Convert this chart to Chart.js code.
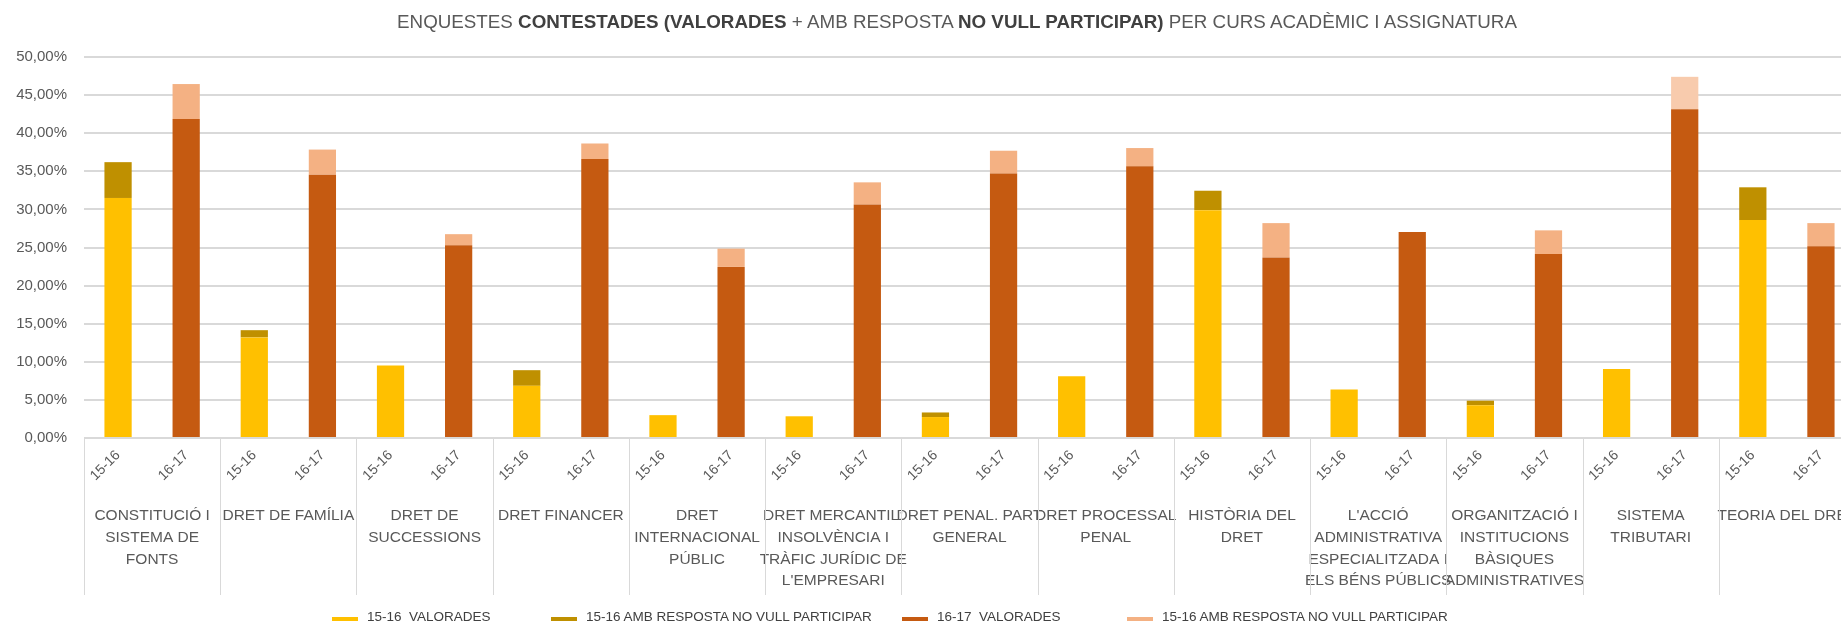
<!DOCTYPE html>
<html>
<head>
<meta charset="utf-8">
<script src="https://cdn.jsdelivr.net/npm/chart.js@4.4.1/dist/chart.umd.min.js"></script>
<style>
  html, body { margin: 0; padding: 0; background: #fff; overflow: hidden; }
  #wrap { position: relative; width: 1860px; height: 628px; }
  #title {
    position: absolute; top: 11px; left: 957px; transform: translateX(-50%);
    white-space: nowrap; font: 18.8px 'Liberation Sans', sans-serif; color: #595959;
  }
  #title b { color: #404040; }
  #legend {
    position: absolute; top: 609px; left: 0; width: 1841px; height: 20px;
    font: 13.5px 'Liberation Sans', sans-serif; color: #404040; white-space: pre;
  }
  #legend .item { position: absolute; top: 0; display: flex; align-items: center; }
  #legend .mark { width: 26px; height: 4px; margin: 5px 9px 0 0; }
</style>
</head>
<body>
<div id="wrap">
  <div id="title">ENQUESTES <b>CONTESTADES (VALORADES</b> + AMB RESPOSTA <b>NO VULL PARTICIPAR)</b> PER CURS ACADÈMIC I ASSIGNATURA</div>
  <canvas id="chart"></canvas>
  <div id="legend"></div>
</div>
<script>
// subjects (groups) and the two academic years inside each group
const subjects = [
  ['CONSTITUCIÓ I', 'SISTEMA DE', 'FONTS'],
  ['DRET DE FAMÍLIA'],
  ['DRET DE', 'SUCCESSIONS'],
  ['DRET FINANCER'],
  ['DRET', 'INTERNACIONAL', 'PÚBLIC'],
  ['DRET MERCANTIL:', 'INSOLVÈNCIA I', 'TRÀFIC JURÍDIC DE', "L'EMPRESARI"],
  ['DRET PENAL. PART', 'GENERAL'],
  ['DRET PROCESSAL', 'PENAL'],
  ['HISTÒRIA DEL', 'DRET'],
  ["L'ACCIÓ", 'ADMINISTRATIVA', 'ESPECIALITZADA I', 'ELS BÉNS PÚBLICS'],
  ['ORGANITZACIÓ I', 'INSTITUCIONS', 'BÀSIQUES', 'ADMINISTRATIVES'],
  ['SISTEMA', 'TRIBUTARI'],
  ['TEORIA DEL DRET']
];
const years = ['15-16', '16-17'];

// % of surveys, one value per subject
const val1516 = [31.5, 13.2, 9.5, 6.85, 3.0, 2.85, 2.75, 8.1, 29.9, 6.35, 4.3, 9.05, 28.6];
const nvp1516 = [4.7, 0.95, 0, 2.05, 0, 0, 0.6, 0, 2.55, 0, 0.6, 0, 4.3];
const val1617 = [41.85, 34.55, 25.3, 36.6, 22.45, 30.65, 34.7, 35.65, 23.7, 27.05, 24.15, 43.15, 25.15];
const nvp1617 = [4.6, 3.3, 1.45, 2.05, 2.4, 2.9, 3.0, 2.4, 4.5, 0, 3.1, 4.25, 3.05];

const yTicks = { min: 0, max: 50, step: 5 };

// one bar slot per (subject, year)
const xLabels = [];
subjects.forEach(() => years.forEach(y => xLabels.push(y)));

function spread(values, yearIdx) {
  const out = [];
  values.forEach(v => years.forEach((y, i) => out.push(i === yearIdx ? v : null)));
  return out;
}

const grey = '#595959';
Chart.defaults.font.family = "'Liberation Sans', sans-serif";
Chart.defaults.color = grey;

// vertical lines between subject groups, from the axis line down through the labels
const groupLines = {
  id: 'groupLines',
  afterDraw(chart) {
    const x2 = chart.scales.x2;
    const ctx = chart.ctx;
    ctx.save();
    ctx.strokeStyle = '#d9d9d9';
    ctx.lineWidth = 1;
    for (let i = 0; i <= subjects.length; i++) {
      const px = Math.round(x2.getPixelForValue(i - 0.5)) + 0.5;
      ctx.beginPath();
      ctx.moveTo(px, chart.chartArea.bottom);
      ctx.lineTo(px, x2.bottom);
      ctx.stroke();
    }
    ctx.restore();
  }
};

const chart = new Chart(document.getElementById('chart'), {
  type: 'bar',
  data: {
    labels: xLabels,
    datasets: [
      { label: '15-16  VALORADES', data: spread(val1516, 0), backgroundColor: '#FFC000' },
      { label: '15-16 AMB RESPOSTA NO VULL PARTICIPAR', data: spread(nvp1516, 0), backgroundColor: '#BF9000' },
      { label: '16-17  VALORADES', data: spread(val1617, 1), backgroundColor: '#C55A11' },
      { label: '15-16 AMB RESPOSTA NO VULL PARTICIPAR', data: spread(nvp1617, 1),
        backgroundColor: ctx => ctx.dataIndex === 23 ? '#F8CBAD' : '#F4B183' }
    ]
  },
  plugins: [groupLines],
  options: {
    responsive: true,
    maintainAspectRatio: false,
    animation: false,
    barPercentage: 0.4,
    categoryPercentage: 1,
    layout: { padding: { top: 57, left: 16, right: 5, bottom: 33 } },
    plugins: {
      legend: { display: false },
      tooltip: { enabled: false }
    },
    scales: {
      x: {
        stacked: true,
        border: { display: false },
        grid: { display: false, drawTicks: false },
        ticks: {
          autoSkip: false, minRotation: 45, maxRotation: 45,
          padding: 9, font: { size: 14 }, color: grey
        },
        afterFit(s) { s.height = 56; s.paddingLeft = 0; s.paddingRight = 0; }
      },
      x2: {
        type: 'category',
        labels: subjects,
        position: 'bottom',
        offset: true,
        border: { display: false },
        grid: { display: false, drawTicks: false },
        ticks: {
          autoSkip: false, minRotation: 0, maxRotation: 0,
          padding: 11, font: { size: 15.5, lineHeight: 1.4 }, color: grey
        },
        afterFit(s) { s.height = 101; s.paddingLeft = 0; s.paddingRight = 0; }
      },
      y: {
        stacked: true,
        min: yTicks.min,
        max: yTicks.max,
        border: { display: false },
        grid: { color: '#d9d9d9', lineWidth: 2, drawTicks: false },
        ticks: {
          stepSize: yTicks.step, padding: 17, font: { size: 15 }, color: grey,
          callback: v => v.toFixed(2).replace('.', ',') + '%'
        },
        afterFit(s) { s.width = 68; }
      }
    }
  }
});

// legend drawn as html from the chart's own legend items
const legendLeft = [332, 551, 902, 1127];
const legendEl = document.getElementById('legend');
chart.options.plugins.legend.labels.generateLabels(chart).forEach((item, i) => {
  const el = document.createElement('div');
  el.className = 'item';
  el.style.left = legendLeft[i] + 'px';
  const mark = document.createElement('span');
  mark.className = 'mark';
  mark.style.background = typeof chart.data.datasets[item.datasetIndex].backgroundColor === 'function'
    ? '#F4B183' : item.fillStyle;
  const txt = document.createElement('span');
  txt.textContent = item.text;
  el.appendChild(mark);
  el.appendChild(txt);
  legendEl.appendChild(el);
});
</script>
</body>
</html>
